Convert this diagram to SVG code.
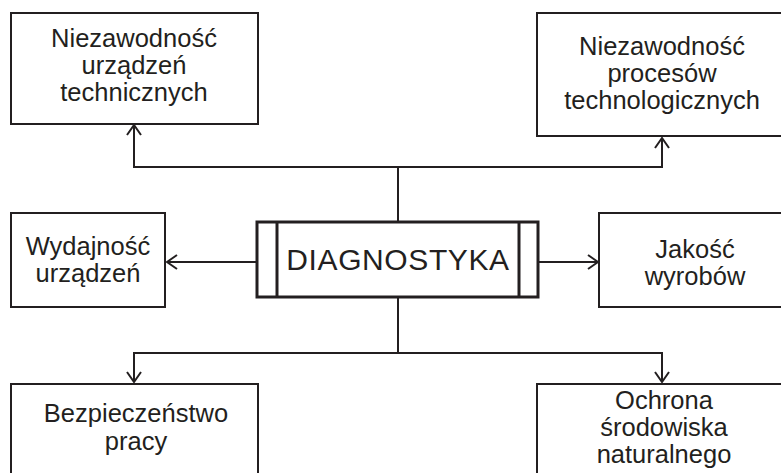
<svg xmlns="http://www.w3.org/2000/svg" width="781" height="473" viewBox="0 0 781 473">
<style>
.box{fill:#fff;stroke:#231f20;stroke-width:2}
.main{fill:#fff;stroke:#231f20;stroke-width:3}
.t{font-family:"Liberation Sans",Arial,sans-serif;font-size:25.5px;fill:#231f20;text-anchor:middle}
.big{font-size:30px;letter-spacing:0.6px}
.c{fill:none;stroke:#231f20;stroke-width:2}
</style>
<defs>
<marker id="ah" viewBox="0 0 12 16" refX="11" refY="8" markerWidth="12" markerHeight="16" markerUnits="userSpaceOnUse" orient="auto">
<path d="M1,1 L11,8 L1,15" fill="none" stroke="#231f20" stroke-width="2"/>
</marker>
</defs>
<g id="connectors">
<path class="c" d="M398,222 V167 H134 V125" marker-end="url(#ah)"/>
<path class="c" d="M398,167 H662 V138" marker-end="url(#ah)"/>
<path class="c" d="M257,262 H167" marker-end="url(#ah)"/>
<path class="c" d="M538,262 H598" marker-end="url(#ah)"/>
<path class="c" d="M398,297 V353 H134 V382" marker-end="url(#ah)"/>
<path class="c" d="M398,353 H662 V382" marker-end="url(#ah)"/>
</g>
<g id="n1">
<rect class="box" x="11" y="13" width="247" height="111"/>
<text class="t" x="134" y="47">Niezawodność</text>
<text class="t" x="134" y="74">urządzeń</text>
<text class="t" x="134" y="101">technicznych</text>
</g>
<g id="n2">
<rect class="box" x="537" y="13" width="260" height="123"/>
<text class="t" x="662" y="55">Niezawodność</text>
<text class="t" x="662" y="82">procesów</text>
<text class="t" x="662" y="109">technologicznych</text>
</g>
<g id="n3">
<rect class="box" x="11" y="213" width="154" height="94"/>
<text class="t" x="88" y="255">Wydajność</text>
<text class="t" x="88" y="282">urządzeń</text>
</g>
<g id="n4">
<rect class="box" x="599" y="213" width="200" height="94"/>
<text class="t" x="695" y="258">Jakość</text>
<text class="t" x="695" y="285">wyrobów</text>
</g>
<g id="center">
<rect class="main" x="257" y="222" width="281" height="75"/>
<line class="main" x1="277" y1="222" x2="277" y2="297"/>
<line class="main" x1="519" y1="222" x2="519" y2="297"/>
<text class="t big" x="398" y="270">DIAGNOSTYKA</text>
</g>
<g id="n5">
<rect class="box" x="11" y="384" width="247" height="110"/>
<text class="t" x="136" y="422">Bezpieczeństwo</text>
<text class="t" x="136" y="450">pracy</text>
</g>
<g id="n6">
<rect class="box" x="537" y="384" width="260" height="110"/>
<text class="t" x="664" y="409">Ochrona</text>
<text class="t" x="664" y="436">środowiska</text>
<text class="t" x="664" y="463">naturalnego</text>
</g>
</svg>
